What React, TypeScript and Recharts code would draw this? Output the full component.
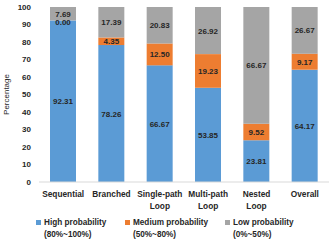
import React from 'react';
import { BarChart, Bar, XAxis, YAxis, Legend, LabelList } from 'recharts';

const categories = ['Sequential', 'Branched', 'Single-path Loop', 'Multi-path Loop', 'Nested Loop', 'Overall'];
const highValues = [92.31, 78.26, 66.67, 53.85, 23.81, 64.17];
const mediumValues = [0.0, 4.35, 12.5, 19.23, 9.52, 9.17];
const lowValues = [7.69, 17.39, 20.83, 26.92, 66.67, 26.67];
const yTicks = [0, 10, 20, 30, 40, 50, 60, 70, 80, 90, 100];

const series = [
  { key: 'high', name: 'High probability', range: '(80%~100%)', color: '#5B9BD5' },
  { key: 'medium', name: 'Medium probability', range: '(50%~80%)', color: '#ED7D31' },
  { key: 'low', name: 'Low probability', range: '(0%~50%)', color: '#A5A5A5' },
];

const data = categories.map((name, i) => ({
  name,
  high: highValues[i],
  medium: mediumValues[i],
  low: lowValues[i],
}));

const FONT = '"Liberation Sans", Arial, sans-serif';

function CategoryTick(props: any) {
  const { x, y, payload } = props;
  const words = String(payload.value).split(' ');
  const lines = words.length > 1 ? [words[0], words.slice(1).join(' ')] : words;
  return (
    <text textAnchor="middle" fontSize={8.3} fontWeight="bold" fill="#262626" fontFamily={FONT}>
      {lines.map((l, i) => (
        <tspan key={i} x={x} y={Number(y) + 7 + i * 12}>
          {l}
        </tspan>
      ))}
    </text>
  );
}

function LegendBox() {
  const lefts = [36, 125, 225];
  return (
    <div style={{ position: 'relative', height: 28, fontFamily: FONT, fontSize: 8.2, fontWeight: 'bold', color: '#262626' }}>
      {series.map((s, i) => (
        <div key={s.key} style={{ position: 'absolute', left: lefts[i], top: 3, lineHeight: '12px', whiteSpace: 'nowrap' }}>
          <span style={{ display: 'inline-block', width: 5, height: 5, background: s.color, marginRight: 3 }} />
          {s.name}
          <div style={{ paddingLeft: 8 }}>{s.range}</div>
        </div>
      ))}
    </div>
  );
}

function SegmentLabel(props: any) {
  const { x, y, width, height, value } = props;
  // a zero-height segment sits on the bar below, nudge its label down a touch
  const shift = Math.abs(Number(height)) < 1 ? 5 : 3;
  return (
    <text
      x={Number(x) + Number(width) / 2}
      y={Number(y) + Number(height) / 2}
      dy={shift}
      textAnchor="middle"
      fontSize={8}
      fontWeight="bold"
      fill="#262626"
      fontFamily={FONT}
    >
      {Number(value).toFixed(2)}
    </text>
  );
}

export default function App() {
  return (
    <div style={{ position: 'absolute', left: 0, top: 0, background: '#fff' }}>
      <BarChart width={332} height={242} data={data} margin={{ top: 7, right: 3, bottom: 0, left: 0 }}>
        <YAxis
          type="number"
          domain={[0, 100]}
          ticks={yTicks}
          interval={0}
          width={39}
          axisLine={false}
          tickLine={false}
          tick={{ fontSize: 8, fontWeight: 'bold', fill: '#262626', fontFamily: FONT }}
          label={{ value: 'Percentage', angle: -90, position: 'insideLeft', offset: 6, style: { fontSize: 8, fill: '#262626', fontFamily: FONT, textAnchor: 'middle' } }}
        />
        <XAxis
          dataKey="name"
          interval={0}
          height={32}
          tickLine={false}
          axisLine={{ stroke: '#D9D9D9' }}
          tick={<CategoryTick />}
        />
        <Legend verticalAlign="bottom" height={28} content={() => <LegendBox />} />
        {series.map((s) => (
          <Bar
            key={s.key}
            dataKey={s.key}
            name={s.name}
            stackId="a"
            fill={s.color}
            barSize={26}
            minPointSize={s.key === 'medium' ? 0.01 : 0}
            isAnimationActive={false}
          >
            <LabelList dataKey={s.key} content={<SegmentLabel />} />
          </Bar>
        ))}
      </BarChart>
    </div>
  );
}
